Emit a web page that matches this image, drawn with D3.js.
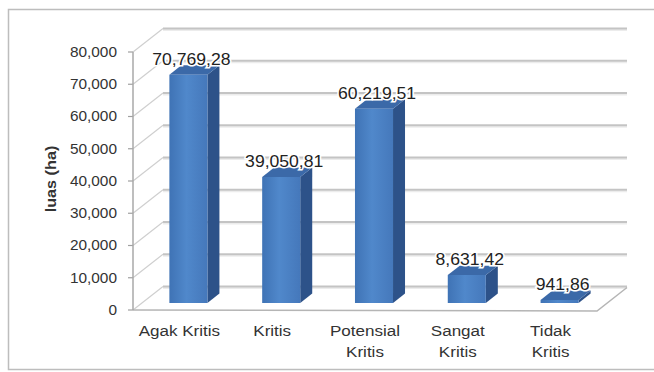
<!DOCTYPE html>
<html><head><meta charset="utf-8">
<script src="https://cdn.jsdelivr.net/npm/d3@7"></script>
<style>body{margin:0;background:#fff}svg{display:block}text{font-family:"Liberation Sans",Arial,sans-serif}</style>
</head><body><svg id="c" width="654" height="372"></svg>
<script>
const categories = [["Agak Kritis"], ["Kritis"], ["Potensial", "Kritis"], ["Sangat", "Kritis"], ["Tidak", "Kritis"]];
const values = [70769.28, 39050.81, 60219.51, 8631.42, 941.86];
const valueLabels = ["70,769,28", "39,050,81", "60,219,51", "8,631,42", "941,86"];
const yTicks = [0, 10000, 20000, 30000, 40000, 50000, 60000, 70000, 80000];
const yTitle = "luas (ha)";

const svg = d3.select("#c");
const DX = 30, DY = -23.5;           // full depth offset of the 3D box
const F0 = 0.3, F1 = 0.7;            // bar depth span
const SX = 1.1;                      // horizontal text stretch
const P = (x, y, f) => [x + DX * f, y + DY * f];

const x = d3.scaleBand().domain(d3.range(categories.length)).range([133, 597]);
const y = d3.scaleLinear().domain([0, 80000]).range([310, 52]);
const fmt = d3.format(",");

// outer border
svg.append("rect").attr("x", 8.5).attr("y", 9.5).attr("width", 700).attr("height", 360)
  .attr("fill", "none").attr("stroke", "#bdbdbd").attr("stroke-width", 1.5);

// back wall gridlines
const g = svg.append("g");
yTicks.forEach(t => {
  const a = P(133, y(t), 1), b = P(597, y(t), 1);
  g.append("line").attr("x1", a[0]).attr("y1", a[1] + 1.5).attr("x2", b[0]).attr("y2", b[1] + 1.5)
    .attr("stroke", "#ececec").attr("stroke-width", 2);
  g.append("line").attr("x1", a[0]).attr("y1", a[1]).attr("x2", b[0]).attr("y2", b[1])
    .attr("stroke", "#c4c4c4").attr("stroke-width", 2);
  // side wall diagonal
  g.append("line").attr("x1", 133).attr("y1", y(t)).attr("x2", a[0]).attr("y2", a[1])
    .attr("stroke", "#cfcfcf").attr("stroke-width", 1.2);
  // tick mark
  g.append("line").attr("x1", 128).attr("y1", y(t)).attr("x2", 133).attr("y2", y(t))
    .attr("stroke", "#a0a0a0").attr("stroke-width", 1.2);
});

// floor outline
const f1 = [133, y(0)], f2 = [597, y(0) + 1], f3 = P(597, y(0) + 1, 1);
svg.append("path").attr("d", `M${f1}L${f2}L${f3}`).attr("fill", "none")
  .attr("stroke", "#b5b5b5").attr("stroke-width", 1.5);
// front vertical axis
svg.append("line").attr("x1", 133).attr("y1", y(80000)).attr("x2", 133).attr("y2", y(0))
  .attr("stroke", "#a8a8a8").attr("stroke-width", 1.5);

// gradient
const defs = svg.append("defs");
const gr = defs.append("linearGradient").attr("id", "fg").attr("x1", 0).attr("x2", 1).attr("y1", 0).attr("y2", 0);
gr.append("stop").attr("offset", "0%").attr("stop-color", "#3f73b5");
gr.append("stop").attr("offset", "45%").attr("stop-color", "#5088cb");
gr.append("stop").attr("offset", "100%").attr("stop-color", "#4578bb");

// bars
const bw = x.bandwidth() * 0.41;
values.forEach((v, i) => {
  const cx = x(i) + x.bandwidth() / 2;
  const xl = cx - bw / 2, xr = cx + bw / 2;
  const y0 = y(0), yt = y(v);
  const A = P(xl, yt, F0), B = P(xr, yt, F0), C = P(xr, yt, F1), D = P(xl, yt, F1);
  const Bb = P(xr, y0, F0), Cb = P(xr, y0, F1), Ab = P(xl, y0, F0);
  svg.append("path").attr("d", `M${B}L${C}L${Cb}L${Bb}Z`).attr("fill", "#2d5289");
  svg.append("path").attr("d", `M${A}L${B}L${C}L${D}Z`).attr("fill", "#3b69a8");
  svg.append("path").attr("d", `M${A}L${B}L${Bb}L${Ab}Z`).attr("fill", "url(#fg)");
  const lx = (A[0] + B[0]) / 2 + 3, ly = D[1] - 6;
  svg.append("text").attr("transform", `translate(${lx},${ly}) scale(${SX},1)`)
    .attr("text-anchor", "middle").attr("dominant-baseline", "central")
    .attr("font-size", 16).attr("fill", "#222")
    .attr("stroke", "#fff").attr("stroke-width", 3).attr("paint-order", "stroke")
    .text(valueLabels[i]);
});

// category labels
categories.forEach((lines, i) => {
  const cx = x(i) + x.bandwidth() / 2;
  lines.forEach((s, k) => {
    svg.append("text").attr("transform", `translate(${cx},${330 + k * 21}) scale(${SX},1)`)
      .attr("text-anchor", "middle").attr("dominant-baseline", "central")
      .attr("font-size", 15.5).attr("fill", "#333").text(s);
  });
});

// y tick labels
yTicks.forEach(t => {
  svg.append("text").attr("transform", `translate(117,${y(t)}) scale(${SX},1)`)
    .attr("text-anchor", "end").attr("dominant-baseline", "central")
    .attr("font-size", 14).attr("fill", "#333").text(fmt(t));
});

// y title
svg.append("text").attr("transform", `translate(51,179) rotate(-90) scale(1.12,1)`)
  .attr("text-anchor", "middle").attr("dominant-baseline", "central")
  .attr("font-size", 14.5).attr("font-weight", "bold").attr("fill", "#333").text(yTitle);
</script></body></html>
